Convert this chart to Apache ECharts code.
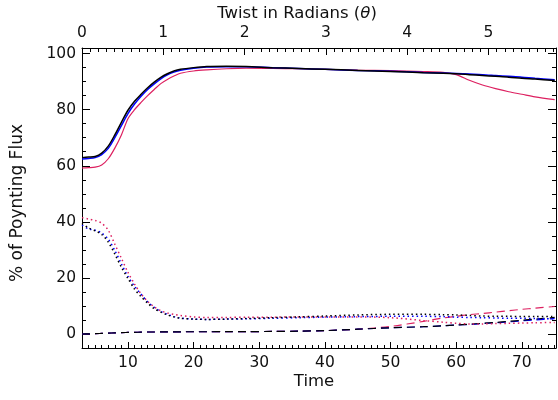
<!DOCTYPE html>
<html>
<head>
<meta charset="utf-8">
<script src="https://cdn.jsdelivr.net/npm/echarts@6/dist/echarts.min.js"></script>
<style>html,body{margin:0;padding:0;background:#fff;}#c{width:558px;height:400px;}</style>
</head>
<body>
<div id="c"></div>
<script>
// ---- data ----
var time = [3, 4, 5, 6, 7, 8, 9, 10, 11, 12, 13, 14, 15, 16, 17, 18, 20, 22, 25, 28, 32, 36, 40, 45, 50, 55, 58, 60, 62, 64, 66, 68, 70, 72, 75];
var solidBlack = [62.9, 63.1, 63.3, 64.5, 67.0, 71.0, 75.5, 79.8, 83.0, 85.5, 87.8, 89.8, 91.5, 92.8, 93.8, 94.4, 95.0, 95.4, 95.5, 95.4, 95.0, 94.7, 94.4, 94.0, 93.6, 93.2, 93.0, 92.8, 92.5, 92.2, 91.9, 91.6, 91.2, 90.9, 90.4];
var solidBlue = [62.4, 62.6, 62.9, 64.0, 66.2, 70.0, 74.3, 78.6, 82.0, 84.8, 87.2, 89.2, 91.0, 92.4, 93.4, 94.1, 94.8, 95.2, 95.3, 95.3, 95.0, 94.7, 94.4, 94.0, 93.7, 93.3, 93.1, 92.9, 92.7, 92.5, 92.2, 91.9, 91.6, 91.2, 90.7];
var solidRed = [59.2, 59.3, 59.5, 60.3, 62.5, 66.3, 71.0, 76.8, 80.0, 82.6, 85.0, 87.2, 89.3, 90.8, 92.0, 93.0, 93.8, 94.2, 94.6, 94.8, 94.7, 94.6, 94.4, 94.1, 93.9, 93.6, 93.3, 92.5, 90.5, 88.8, 87.5, 86.4, 85.5, 84.6, 83.6];
var dotBlack = [39.4, 37.8, 36.8, 35.5, 32.8, 28.5, 23.8, 19.8, 16.0, 13.3, 11.0, 9.0, 7.8, 6.8, 6.1, 5.6, 5.3, 5.2, 5.3, 5.5, 5.8, 6.1, 6.4, 6.8, 7.0, 7.0, 6.9, 6.8, 6.6, 6.4, 6.3, 6.3, 6.2, 6.2, 6.2];
var dotBlue = [38.8, 37.5, 37.0, 36.0, 33.8, 29.8, 25.0, 20.5, 17.0, 14.2, 11.5, 9.5, 8.0, 7.0, 6.2, 5.7, 5.3, 5.2, 5.3, 5.4, 5.6, 5.8, 6.0, 6.2, 6.3, 6.3, 6.2, 6.0, 5.9, 5.8, 5.7, 5.6, 5.6, 5.5, 5.4];
var dotRed = [41.5, 41.0, 40.5, 39.5, 37.0, 32.0, 27.0, 22.0, 17.8, 14.3, 11.6, 9.7, 8.3, 7.5, 7.0, 6.6, 6.1, 5.9, 5.9, 6.0, 6.0, 6.1, 6.1, 6.1, 5.8, 4.8, 4.2, 3.8, 3.6, 3.6, 3.7, 3.8, 3.9, 4.0, 4.1];
var dashBlack = [0.0, 0.05, 0.1, 0.2, 0.3, 0.4, 0.5, 0.55, 0.6, 0.65, 0.7, 0.7, 0.72, 0.74, 0.76, 0.78, 0.8, 0.8, 0.82, 0.85, 0.9, 1.0, 1.2, 1.7, 2.2, 2.6, 2.9, 3.2, 3.5, 3.8, 4.1, 4.5, 4.9, 5.3, 5.9];
var dashBlue = [0.0, 0.05, 0.1, 0.2, 0.3, 0.4, 0.5, 0.55, 0.6, 0.65, 0.7, 0.7, 0.72, 0.74, 0.76, 0.78, 0.8, 0.8, 0.82, 0.85, 0.9, 1.0, 1.2, 1.7, 2.2, 2.6, 2.9, 3.2, 3.4, 3.7, 4.0, 4.3, 4.7, 5.0, 5.5];
var dashRed = [0.0, 0.05, 0.1, 0.2, 0.3, 0.4, 0.5, 0.55, 0.6, 0.65, 0.7, 0.7, 0.72, 0.74, 0.76, 0.78, 0.8, 0.8, 0.82, 0.85, 0.9, 1.0, 1.2, 1.7, 2.7, 4.5, 5.7, 6.3, 6.9, 7.3, 7.8, 8.3, 8.8, 9.2, 9.8];

var timeTicks = [10, 20, 30, 40, 50, 60, 70];
var twistTicks = [0, 1, 2, 3, 4, 5];
var yTicks = [0, 20, 40, 60, 80, 100];

// ---- build ----
function range(a, b, s) { var r = []; for (var v = a; v <= b + 1e-9; v += s) r.push(Math.round(v * 100) / 100); return r; }
var timeMinor = range(4, 75, 1);
var twistMinor = range(0.1, 5.8, 0.1);
var yMinor = range(5, 100, 5);

var FONT = 'DejaVu Sans';
var TXT = '#111111';
var BLACK = '#000000', BLUE = '#0000ff', RED = '#dd2060';
var X = [3, 75.2], TW = [0, 5.83], Y = [-5, 102];

function grid() { return { left: 82, right: 2, top: 48, bottom: 52, containLabel: false, outerBoundsMode: 'none' }; }
function xAx(gi, pos, ext, ticks, len, labels, line) {
  return {
    type: 'value', gridIndex: gi, position: pos, min: ext[0], max: ext[1],
    axisLine: { show: line, onZero: false, lineStyle: { color: BLACK, width: 1 } },
    axisTick: { show: true, inside: true, length: len, customValues: ticks, lineStyle: { color: BLACK, width: 1 } },
    axisLabel: { show: labels, customValues: ticks, margin: 7, color: TXT, fontFamily: FONT, fontSize: 15.5 },
    splitLine: { show: false }, minorTick: { show: false }
  };
}
function yAx(gi, pos, ticks, len, labels, line) {
  return {
    type: 'value', gridIndex: gi, position: pos, min: Y[0], max: Y[1],
    axisLine: { show: line, onZero: false, lineStyle: { color: BLACK, width: 1 } },
    axisTick: { show: true, inside: true, length: len, customValues: ticks, lineStyle: { color: BLACK, width: 1 } },
    axisLabel: { show: labels, customValues: ticks, margin: 6, color: TXT, fontFamily: FONT, fontSize: 15.5 },
    splitLine: { show: false }, minorTick: { show: false }
  };
}

function pairs(ys) { return time.map(function (t, i) { return [t, ys[i]]; }); }
function line(ys, color, type, width) {
  return {
    type: 'line', xAxisIndex: 0, yAxisIndex: 0, data: pairs(ys), smooth: 0.3,
    showSymbol: false, symbol: 'none', silent: true, animation: false,
    lineStyle: { color: color, width: width, type: type }, z: 3
  };
}
var DOT = [1.5, 3], DASH = [8, 5];

var option = {
  backgroundColor: '#ffffff',
  animation: false,
  grid: [grid(), grid(), grid(), grid()],
  xAxis: [
    xAx(0, 'bottom', X, timeTicks, 6, true, true),
    xAx(1, 'bottom', X, timeMinor, 3, false, false),
    xAx(2, 'top', TW, twistTicks, 7, true, true),
    xAx(3, 'top', TW, twistMinor, 4, false, false)
  ],
  yAxis: [
    yAx(0, 'left', yTicks, 8, true, true),
    yAx(1, 'left', yMinor, 4, false, false),
    yAx(2, 'right', yTicks, 8, false, true),
    yAx(3, 'right', yMinor, 4, false, false)
  ],
  series: [
    line(dashRed, RED, DASH, 1.2),
    line(dashBlue, BLUE, DASH, 1.2),
    line(dashBlack, BLACK, DASH, 1.2),
    line(dotRed, RED, DOT, 1.5),
    line(dotBlue, BLUE, DOT, 1.5),
    line(dotBlack, BLACK, DOT, 1.5),
    line(solidRed, RED, 'solid', 1.2),
    line(solidBlue, BLUE, 'solid', 1.5),
    line(solidBlack, BLACK, 'solid', 1.5)
  ],
  graphic: [
    { type: 'text', x: 297, y: 14, style: { text: '{a|Twist in Radians (}{b|θ}{a|)}', align: 'center', verticalAlign: 'middle',
      rich: { a: { fontFamily: FONT, fontSize: 16.5, fill: TXT }, b: { fontFamily: FONT, fontSize: 16.5, fontStyle: 'italic', fill: TXT } } } },
    { type: 'text', x: 314, y: 382, style: { text: 'Time', align: 'center', verticalAlign: 'middle', fontFamily: FONT, fontSize: 16.5, fill: TXT } },
    { type: 'text', x: 18, y: 203, rotation: Math.PI / 2, style: { text: '% of Poynting Flux', align: 'center', verticalAlign: 'middle', fontFamily: FONT, fontSize: 17, fill: TXT } }
  ]
};

var chart = echarts.init(document.getElementById('c'), null, { renderer: 'canvas' });
chart.setOption(option);
</script>
</body>
</html>
